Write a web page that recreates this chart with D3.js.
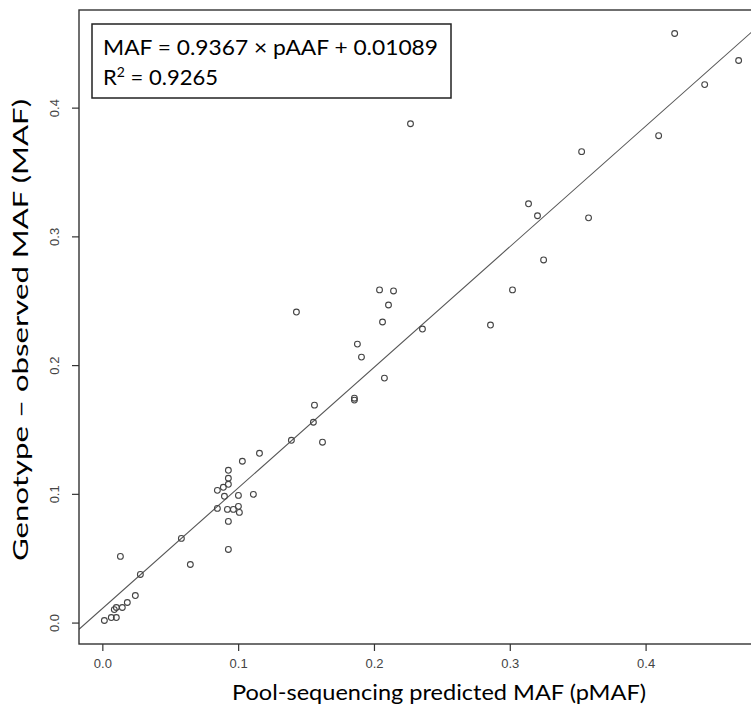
<!DOCTYPE html>
<html>
<head>
<meta charset="utf-8">
<script src="https://cdn.jsdelivr.net/npm/d3@7"></script>
<style>
  body { margin: 0; background: #fff; }
  svg { display: block; }
</style>
</head>
<body>
<svg id="chart"></svg>
<script>
// pool-seq predicted MAF (x) vs genotype observed MAF (y)
const pMAF = [0.4214, 0.4685, 0.4435, 0.4096, 0.3529, 0.2269, 0.3138, 0.3204, 0.3580, 0.3249,
  0.3020, 0.2858, 0.1429, 0.2041, 0.2144, 0.2107, 0.2063, 0.2357, 0.1878, 0.1908,
  0.2077, 0.1856, 0.1856, 0.1562, 0.1554, 0.1392, 0.1621, 0.1157, 0.1031, 0.0928,
  0.0928, 0.0928, 0.0891, 0.0847, 0.0899, 0.1002, 0.1112, 0.0847, 0.0921, 0.0965,
  0.1002, 0.1009, 0.0928, 0.0928, 0.0582, 0.0648, 0.0133, 0.0280, 0.0243, 0.0184,
  0.0147, 0.0103, 0.0088, 0.0066, 0.0103, 0.0015];
const MAF = [0.4576, 0.4366, 0.4179, 0.3782, 0.3658, 0.3875, 0.3253, 0.3160, 0.3144, 0.2817,
  0.2584, 0.2311, 0.2412, 0.2584, 0.2576, 0.2467, 0.2335, 0.2280, 0.2163, 0.2062,
  0.1899, 0.1728, 0.1743, 0.1689, 0.1556, 0.1416, 0.1401, 0.1315, 0.1253, 0.1183,
  0.1121, 0.1074, 0.1051, 0.1027, 0.0981, 0.0988, 0.0996, 0.0887, 0.0879, 0.0879,
  0.0903, 0.0856, 0.0786, 0.0568, 0.0654, 0.0451, 0.0514, 0.0374, 0.0210, 0.0156,
  0.0117, 0.0117, 0.0101, 0.0039, 0.0039, 0.0016];
const tickVals = [0.0, 0.1, 0.2, 0.3, 0.4];
const slope = 0.9367, intercept = 0.01089;
const fitLines = ["MAF = 0.9367 \u00d7 pAAF + 0.01089", "R2"];

const W = 751, H = 714;
const margin = { top: 10, left: 79, bottom: 70, right: -13 };

const svg = d3.select('#chart').attr('width', W).attr('height', H);
svg.append('rect').attr('width', W).attr('height', H).attr('fill', '#fff');

// R style axis limits: data range plus 4% each side
function rlim(v) {
  const e = d3.extent(v), p = (e[1] - e[0]) * 0.04;
  return [e[0] - p, e[1] + p];
}
const x = d3.scaleLinear().domain(rlim(pMAF)).range([margin.left, W - margin.right]);
const y = d3.scaleLinear().domain(rlim(MAF)).range([H - margin.bottom, margin.top]);

const x0 = margin.left, x1 = W - margin.right, y0 = margin.top, y1 = H - margin.bottom;

svg.append('clipPath').attr('id', 'plotclip')
  .append('rect').attr('x', x0).attr('y', y0).attr('width', x1 - x0).attr('height', y1 - y0);

const plot = svg.append('g').attr('clip-path', 'url(#plotclip)');

// regression line across the whole plot
const xd = x.domain();
plot.append('line')
  .attr('x1', x(xd[0])).attr('y1', y(slope * xd[0] + intercept))
  .attr('x2', x(xd[1])).attr('y2', y(slope * xd[1] + intercept))
  .attr('stroke', '#555').attr('stroke-width', 1.1);

plot.selectAll('circle.pt')
  .data(pMAF.map((d, i) => [d, MAF[i]]))
  .enter().append('circle')
    .attr('class', 'pt')
    .attr('cx', d => x(d[0]))
    .attr('cy', d => y(d[1]))
    .attr('r', 2.9)
    .attr('fill', 'none')
    .attr('stroke', '#444')
    .attr('stroke-width', 1.1);

// frame
svg.append('rect')
  .attr('x', x0).attr('y', y0).attr('width', x1 - x0).attr('height', y1 - y0)
  .attr('fill', 'none').attr('stroke', '#333').attr('stroke-width', 1.4);

// axes
const xAxis = svg.append('g').attr('transform', `translate(0,${y1})`)
  .call(d3.axisBottom(x).tickValues(tickVals).tickFormat(d3.format('.1f')).tickSize(7).tickPadding(8));
const yAxis = svg.append('g').attr('transform', `translate(${x0},0)`)
  .call(d3.axisLeft(y).tickValues(tickVals).tickFormat(d3.format('.1f')).tickSize(7).tickPadding(8));
[xAxis, yAxis].forEach(a => {
  a.select('.domain').remove();
  a.selectAll('.tick line').attr('stroke', '#333').attr('stroke-width', 1.2);
  a.selectAll('.tick text')
    .style('font-family', '"Liberation Sans Narrow", "Liberation Sans", Arial, sans-serif')
    .style('font-size', '13px').attr('fill', '#444');
});
yAxis.selectAll('.tick text')
  .attr('transform', 'rotate(-90)')
  .attr('x', 0).attr('y', -25).attr('dy', '0.35em')
  .attr('text-anchor', 'middle');

// axis titles
const titleFont = 'Lato, "Open Sans", sans-serif';
svg.append('text')
  .attr('x', 439).attr('y', 700)
  .attr('text-anchor', 'middle')
  .style('font-family', titleFont).style('font-size', '22px').attr('fill', '#000')
  .attr('textLength', 414).attr('lengthAdjust', 'spacingAndGlyphs')
  .text('Pool-sequencing predicted MAF (pMAF)');
svg.append('text')
  .attr('transform', `translate(28,330) rotate(-90)`)
  .attr('text-anchor', 'middle')
  .style('font-family', titleFont).style('font-size', '22px').attr('fill', '#000')
  .attr('textLength', 462).attr('lengthAdjust', 'spacingAndGlyphs')
  .text('Genotype \u2013 observed MAF (MAF)');

// equation box
svg.append('rect')
  .attr('x', 92).attr('y', 24).attr('width', 359).attr('height', 74)
  .attr('fill', '#fff').attr('stroke', '#222').attr('stroke-width', 1.5);
svg.append('text')
  .attr('x', 103).attr('y', 55)
  .style('font-family', titleFont).style('font-size', '22px').attr('fill', '#000')
  .attr('textLength', 335).attr('lengthAdjust', 'spacingAndGlyphs')
  .text(fitLines[0]);
const r2 = svg.append('text')
  .attr('x', 103).attr('y', 85)
  .style('font-family', titleFont).style('font-size', '22px').attr('fill', '#000');
r2.append('tspan').text('R');
r2.append('tspan').attr('dy', -8).style('font-size', '14px').text('2');
r2.append('tspan').attr('dy', 8).text(' = 0.9265');
</script>
</body>
</html>
